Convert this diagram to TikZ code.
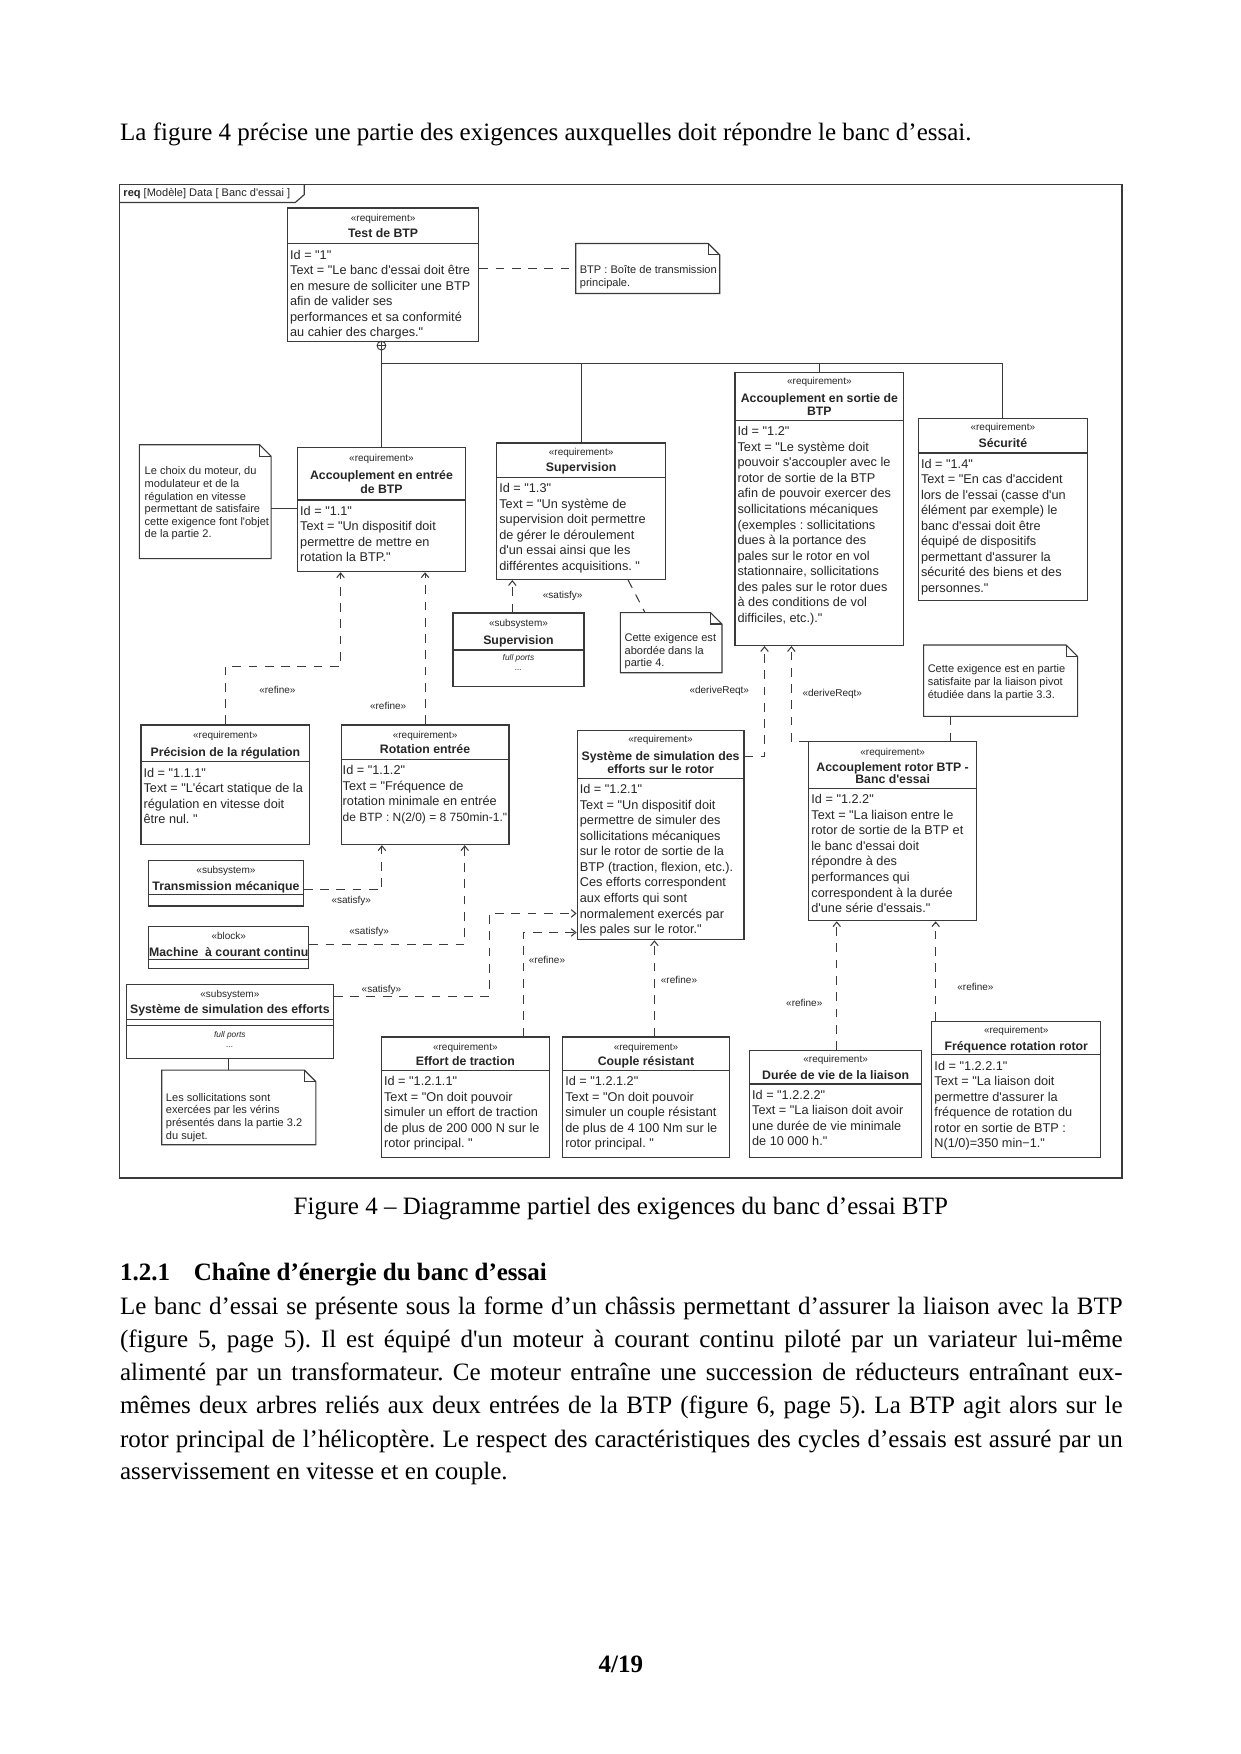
\documentclass[tikz,border=0pt]{standalone}
\usepackage{fontspec}
\setmainfont{Liberation Serif}
\newfontfamily\dgf{Liberation Sans}
\usetikzlibrary{arrows.meta,fit,calc}
\definecolor{ln}{HTML}{3A3A3A}
\definecolor{tx}{HTML}{262626}
\frenchspacing
\newcommand\rbox[6]{%
  \node[box, fit={(#2,#3) (#4,#5)}] (#1) {};
  \draw[sol] (#2,#6) -- (#4,#6);}
\newcommand\nbox[5]{%
  \node[ghost, fit={(#2,#3) (#4,#5)}] (#1) {};
  \draw[sol] (#1.south west) -- (#1.north west) -- ([xshift=-5.5pt]#1.north east) -- ([yshift=-5.5pt]#1.north east) -- (#1.south east) -- cycle;
  \draw[sol] ([xshift=-5.5pt]#1.north east) -- ([xshift=-5.5pt,yshift=-5.5pt]#1.north east) -- ([yshift=-5.5pt]#1.north east);}
\begin{document}
\begin{tikzpicture}[x=0.5367pt,y=-0.5367pt,
  box/.style={draw=ln, line width=0.6pt, inner sep=0pt},
  ghost/.style={inner sep=0pt},
  sol/.style={draw=ln, line width=0.55pt},
  dsh/.style={draw=ln, line width=0.5pt, dash pattern=on 4.2pt off 3.6pt},
  arr/.style={dsh, -{Straight Barb[length=2.2pt,width=3.6pt]}},
  ster/.style={font=\dgf\fontsize{4.8}{5.6}\selectfont, inner sep=0pt, text=tx, anchor=base},
  ttl/.style={font=\dgf\bfseries\fontsize{5.9}{6.6}\selectfont, inner sep=0pt, text=tx, anchor=base},
  bodyt/.style={font=\dgf\fontsize{6.1}{7.45}\selectfont, align=left, inner sep=0pt, anchor=north west, text=tx},
  notet/.style={font=\dgf\fontsize{5.3}{6.05}\selectfont, align=left, inner sep=0pt, anchor=north west, text=tx},
  ports/.style={font=\dgf\itshape\fontsize{4}{5}\selectfont, inner sep=0pt, text=tx, anchor=base},
  lbl/.style={font=\dgf\fontsize{4.8}{5.6}\selectfont, inner sep=0pt, text=tx},
  ptext/.style={font=\fontsize{12}{14}\selectfont, inner sep=0pt, text=black},
  ]
\useasboundingbox (0,0) rectangle (1109,1568);
\fill[white] (0,0) rectangle (1109,1568);

% ---------- page text ----------
\node[ptext, anchor=base west] (p0) at (107,126) {La figure 4 précise une partie des exigences auxquelles doit répondre le banc d’essai.};
\node[ptext, anchor=base] (cap) at (555,1086) {Figure 4 – Diagramme partiel des exigences du banc d’essai BTP};
\node[ptext, font=\bfseries\fontsize{12}{14}\selectfont, anchor=base west] (h1) at (107,1145) {1.2.1};
\node[ptext, font=\bfseries\fontsize{12}{14}\selectfont, anchor=base west] (h2) at (173,1145) {Chaîne d’énergie du banc d’essai};
\node[ptext, anchor=base west] (l1) at (107,1175) {\makebox[481pt][s]{Le banc d’essai se présente sous la forme d’un châssis permettant d’assurer la liaison avec la BTP}};
\node[ptext, anchor=base west] (l2) at (107,1205) {\makebox[481pt][s]{(figure 5, page 5). Il est équipé d\textquotesingle un moteur à courant continu piloté par un variateur lui-même}};
\node[ptext, anchor=base west] (l3) at (107,1234) {\makebox[481pt][s]{alimenté par un transformateur. Ce moteur entraîne une succession de réducteurs entraînant eux-}};
\node[ptext, anchor=base west] (l4) at (107,1264) {\makebox[481pt][s]{mêmes deux arbres reliés aux deux entrées de la BTP (figure 6, page 5). La BTP agit alors sur le}};
\node[ptext, anchor=base west] (l5) at (107,1294) {\makebox[481pt][s]{rotor principal de l’hélicoptère. Le respect des caractéristiques des cycles d’essais est assuré par un}};
\node[ptext, anchor=base west] (l6) at (107,1323) {asservissement en vitesse et en couple.};
\node[ptext, font=\bfseries\fontsize{12}{14}\selectfont, anchor=base] (pg) at (555,1495) {4/19};

% ---------- frame ----------
\node[box, fit={(107,165) (1003,1053)}] (frame) {};
\draw[sol] (frame.north west |- 0,181) -- (264,181) -- (272,174) -- (272,165);
\node[font=\dgf\fontsize{5.3}{6}\selectfont, inner sep=0pt, text=tx, anchor=base west] (tab) at (110,176) {\textbf{req} [Modèle] Data [ Banc d'essai ]};

% ---------- Test de BTP ----------
\rbox{test}{257}{186}{428}{305}{218}
\node[ster] (tests) at ($(test.north)+(0,12.5)$) {«requirement»};
\node[ttl] (testt) at ($(test.north)+(0,27)$) {Test de BTP};
\node[bodyt] (testb) at (259,223) {Id = "1"\\Text = "Le banc d'essai doit être\\en mesure de solliciter une BTP\\afin de valider ses\\performances et sa conformité\\au cahier des charges."};

\nbox{nbtp}{515}{218}{643}{262}
\node[notet] (nbtpt) at (518,237) {BTP : Boîte de transmission\\principale.};
\draw[dsh] (nbtp.west -| test.east) -- (nbtp.west);

% ---------- Accouplement en entree ----------
\rbox{entree}{266}{400}{416}{511}{447}
\node[ster] (entrees) at ($(entree.north)+(0,13)$) {«requirement»};
\node[ttl] (entreet) at ($(entree.north)+(0,29)$) {Accouplement en entrée};
\node[ttl] (entreet2) at ($(entree.north)+(0,42)$) {de BTP};
\node[bodyt] (entreeb) at (268,452) {Id = "1.1"\\Text = "Un dispositif doit\\permettre de mettre en\\rotation la BTP."};

\nbox{nchoix}{125}{398}{242}{499}
\node[notet] (nchoixt) at (129,417) {Le choix du moteur, du\\modulateur et de la\\régulation en vitesse\\permettant de satisfaire\\cette exigence font l'objet\\de la partie 2.};
\draw[sol] ($(nchoix.east)+(0,6)$) -- ($(nchoix.east -| entree.west)+(0,6)$);

% ---------- Supervision ----------
\rbox{sup}{444}{396}{595}{518}{427}
\node[ster] (sups) at ($(sup.north)+(0,11.5)$) {«requirement»};
\node[ttl] (supt) at ($(sup.north)+(0,26)$) {Supervision};
\node[bodyt] (supb) at (446,432) {Id = "1.3"\\Text = "Un système de\\supervision doit permettre\\de gérer le déroulement\\d'un essai ainsi que les\\différentes acquisitions. "};

\rbox{subsup}{405}{548}{522}{614}{581}
\node[ster] (subsups) at ($(subsup.north)+(0,12.5)$) {«subsystem»};
\node[ttl] (subsupt) at ($(subsup.north)+(0,29)$) {Supervision};
\node[ports] (subsupp) at ($(subsup.north)+(0,43)$) {full ports};
\node[ports] (subsupd) at ($(subsup.north)+(0,52)$) {...};
\draw[arr] ($(subsup.north)+(-5.5,0)$) coordinate (s1) -- (s1 |- sup.south);
\node[lbl] (lsat1) at (503,533) {«satisfy»};

\nbox{np4}{555}{548}{645}{601}
\node[notet] (np4t) at (558,566) {Cette exigence est\\abordée dans la\\partie 4.};
\draw[dsh] ($(sup.south)+(42,0)$) -- ($(np4.north west)+(22,0)$);

% ---------- Accouplement en sortie ----------
\rbox{sortie}{657}{333}{808}{577}{376}
\node[ster] (sorties) at ($(sortie.north)+(0,11.5)$) {«requirement»};
\node[ttl] (sortiet) at ($(sortie.north)+(0,27)$) {Accouplement en sortie de};
\node[ttl] (sortiet2) at ($(sortie.north)+(0,39)$) {BTP};
\node[bodyt] (sortieb) at (659,381) {Id = "1.2"\\Text = "Le système doit\\pouvoir s'accoupler avec le\\rotor de sortie de la BTP\\afin de pouvoir exercer des\\sollicitations mécaniques\\(exemples : sollicitations\\dues à la portance des\\pales sur le rotor en vol\\stationnaire, sollicitations\\des pales sur le rotor dues\\à des conditions de vol\\difficiles, etc.)."};

% ---------- Securite ----------
\rbox{secu}{821}{374}{972}{537}{405}
\node[ster] (secus) at ($(secu.north)+(0,11.5)$) {«requirement»};
\node[ttl] (secut) at ($(secu.north)+(0,27)$) {Sécurité};
\node[bodyt] (secub) at (823,410) {Id = "1.4"\\Text = "En cas d'accident\\lors de l'essai (casse d'un\\élément par exemple) le\\banc d'essai doit être\\équipé de dispositifs\\permettant d'assurer la\\sécurité des biens et des\\personnes."};

% ---------- containment tree ----------
\node[circle, draw=ln, line width=0.45pt, minimum size=4.2pt, inner sep=0pt] (comp) at (341,309) {};
\draw[ln, line width=0.4pt] (comp.north) -- (comp.south) (comp.west) -- (comp.east);
\coordinate (bus) at (341,325);
\draw[sol] (comp.south) -- (comp.south |- entree.north);
\draw[sol] (bus) -- (bus -| secu.north) -- (secu.north);
\draw[sol] (bus -| sup.north) -- (sup.north);
\draw[sol] (bus -| sortie.north) -- (sortie.north);

% ---------- Accouplement rotor ----------
\nbox{npivot}{826}{577}{963}{640}
\node[notet] (npivott) at (829,594) {Cette exigence est en partie\\satisfaite par la liaison pivot\\étudiée dans la partie 3.3.};

\rbox{rotor}{723}{663}{873}{823}{705}
\node[ster] (rotors) at ($(rotor.north)+(0,12.5)$) {«requirement»};
\node[ttl] (rotort) at ($(rotor.north)+(0,27)$) {Accouplement rotor BTP -};
\node[ttl] (rotort2) at ($(rotor.north)+(0,38)$) {Banc d'essai};
\node[bodyt] (rotorb) at (725,710) {Id = "1.2.2"\\Text = "La liaison entre le\\rotor de sortie de la BTP et\\le banc d'essai doit\\répondre à des\\performances qui\\correspondent à la durée\\d'une série d'essais."};
\draw[dsh] ($(npivot.south west)+(24,0)$) coordinate (p1) -- (p1 |- rotor.north);

% ---------- Systeme de simulation ----------
\rbox{simu}{516}{653}{665}{840}{696}
\node[ster] (simus) at ($(simu.north)+(0,11.5)$) {«requirement»};
\node[ttl] (simut) at ($(simu.north)+(0,27)$) {Système de simulation des};
\node[ttl] (simut2) at ($(simu.north)+(0,39)$) {efforts sur le rotor};
\node[bodyt] (simub) at (518,701) {Id = "1.2.1"\\Text = "Un dispositif doit\\permettre de simuler des\\sollicitations mécaniques\\sur le rotor de sortie de la\\BTP (traction, flexion, etc.).\\Ces efforts correspondent\\aux efforts qui sont\\normalement exercés par\\les pales sur le rotor."};

\draw[arr] ($(simu.north east)+(0,24)$) -| ($(sortie.south west)+(27,0)$);
\draw[arr] (rotor.north west) -| ($(sortie.south west)+(51,0)$);
\node[lbl] (ld1) at (643,618) {«deriveReqt»};
\node[lbl] (ld2) at (744,620) {«deriveReqt»};

% ---------- Precision / Rotation ----------
\rbox{prec}{126}{648}{277}{755}{681}
\node[ster] (precs) at ($(prec.north)+(0,13)$) {«requirement»};
\node[ttl] (prect) at ($(prec.north)+(0,29)$) {Précision de la régulation};
\node[bodyt] (precb) at (128,686) {Id = "1.1.1"\\Text = "L'écart statique de la\\régulation en vitesse doit\\être nul. "};

\rbox{rot}{305}{648}{455}{755}{679}
\node[ster] (rots) at ($(rot.north)+(0,12.5)$) {«requirement»};
\node[ttl] (rott) at ($(rot.north)+(0,26)$) {Rotation entrée};
\node[bodyt] (rotb) at (306,684) {Id = "1.1.2"\\Text = "Fréquence de\\rotation minimale en entrée\\{\fontsize{5.75}{7.45}\selectfont de BTP : N(2/0) = 8 750min-1."}};

\draw[arr] (prec.north) -- ++(0,-52) -| ($(entree.south west)+(39,0)$);
\node[lbl] (lr1) at (248,617) {«refine»};
\draw[arr] (rot.north) -- (rot.north |- entree.south);
\node[lbl] (lr2) at (347,631) {«refine»};

% ---------- subsystems / block ----------
\rbox{trans}{133}{769}{271}{810}{800}
\node[ster] (transs) at ($(trans.north)+(0,12.5)$) {«subsystem»};
\node[ttl] (transt) at ($(trans.north)+(0,28)$) {Transmission mécanique};
\draw[arr] ($(trans.east)+(0,6)$) -| ($(rot.south west)+(37,0)$);
\node[lbl] (ls2) at (314,805) {«satisfy»};

\rbox{mach}{133}{828}{276}{866}{858}
\node[ster] (machs) at ($(mach.north)+(0,12.5)$) {«block»};
\node[ttl] (macht) at ($(mach.north)+(0,28)$) {Machine \ à courant continu};
\draw[arr] ($(mach.east)+(0,-3)$) -| ($(rot.south west)+(111,0)$);
\node[lbl] (ls3) at (330,833) {«satisfy»};

\rbox{subsim}{113}{880}{298}{946}{911}
\draw[sol] (113,917) -- (298,917);
\node[ster] (subsims) at ($(subsim.north)+(0,12)$) {«subsystem»};
\node[ttl] (subsimt) at ($(subsim.north)+(0,27)$) {Système de simulation des efforts};
\node[ports] (subsimp) at ($(subsim.north)+(0,48)$) {full ports};
\node[ports] (subsimd) at ($(subsim.north)+(0,57)$) {...};
\draw[arr] ($(subsim.north east)+(0,11)$) -- ++(139,0) |- ($(simu.south west)+(0,-24)$);
\node[lbl] (ls4) at (341,885) {«satisfy»};

\nbox{nsoll}{145}{957}{282}{1023}
\node[notet] (nsollt) at (148,977) {Les sollicitations sont\\exercées par les vérins\\présentés dans la partie 3.2\\du sujet.};
\draw[sol] ($(subsim.south west)+(92,0)$) coordinate (q1) -- (q1 |- nsoll.north);

% ---------- bottom requirements ----------
\rbox{effort}{341}{927}{491}{1035}{957}
\node[ster] (efforts) at ($(effort.north)+(0,12.5)$) {«requirement»};
\node[ttl] (effortt) at ($(effort.north)+(0,26)$) {Effort de traction};
\node[bodyt] (effortb) at (343,962) {Id = "1.2.1.1"\\Text = "On doit pouvoir\\simuler un effort de traction\\de plus de 200 000 N sur le\\rotor principal. "};
\draw[arr] ($(effort.north east)+(-24,0)$) |- ($(simu.south west)+(0,-7)$);
\node[lbl] (lr3) at (489,858) {«refine»};

\rbox{couple}{503}{927}{652}{1035}{957}
\node[ster] (couples) at ($(couple.north)+(0,12.5)$) {«requirement»};
\node[ttl] (couplet) at ($(couple.north)+(0,26)$) {Couple résistant};
\node[bodyt] (coupleb) at (505,962) {Id = "1.2.1.2"\\Text = "On doit pouvoir\\simuler un couple résistant\\de plus de 4 100 Nm sur le\\rotor principal. "};
\draw[arr] ($(couple.north)+(7.5,0)$) coordinate (c1) -- (c1 |- simu.south);
\node[lbl] (lr4) at (607,876) {«refine»};

\rbox{duree}{670}{939}{824}{1035}{969}
\node[ster] (durees) at ($(duree.north)+(0,11.5)$) {«requirement»};
\node[ttl] (dureet) at ($(duree.north)+(0,27)$) {Durée de vie de la liaison};
\node[bodyt] (dureeb) at (672,974) {Id = "1.2.2.2"\\Text = "La liaison doit avoir\\une durée de vie minimale\\de 10 000 h."};
\draw[arr] ($(duree.north)+(1,0)$) coordinate (d1) -- (d1 |- rotor.south);
\node[lbl] (lr5) at (719,897) {«refine»};

\rbox{freq}{833}{913}{984}{1035}{943}
\node[ster] (freqs) at ($(freq.north)+(0,11.5)$) {«requirement»};
\node[ttl] (freqt) at ($(freq.north)+(0,27)$) {Fréquence rotation rotor};
\node[bodyt] (freqb) at (835,948) {Id = "1.2.2.1"\\Text = "La liaison doit\\permettre d'assurer la\\fréquence de rotation du\\rotor en sortie de BTP :\\N(1/0)=350 min−1."};
\draw[arr] ($(freq.north west)+(4,0)$) coordinate (f1) -- (f1 |- rotor.south);
\node[lbl] (lr6) at (872,882) {«refine»};
\end{tikzpicture}
\end{document}
